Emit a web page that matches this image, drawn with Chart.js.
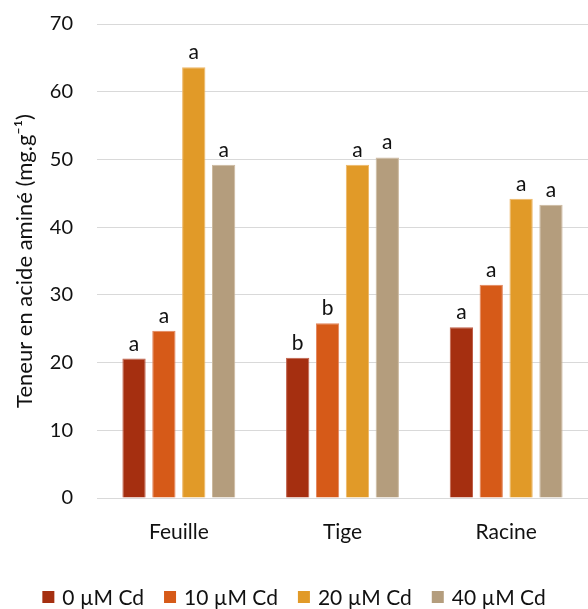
<!DOCTYPE html>
<html>
<head>
<meta charset="utf-8">
<script src="https://cdn.jsdelivr.net/npm/chart.js@4"></script>
<style>
html,body{margin:0;padding:0;background:#fff;}
#wrap{width:588px;height:609px;position:relative;}
</style>
</head>
<body>
<div id="wrap"><canvas id="c" width="588" height="609"></canvas></div>
<script>
const categories = ["Feuille", "Tige", "Racine"];
const seriesNames = ["0 µM Cd", "10 µM Cd", "20 µM Cd", "40 µM Cd"];
const cd0 = [20.6, 20.7, 25.2];
const cd10 = [24.7, 25.8, 31.5];
const cd20 = [63.6, 49.2, 44.2];
const cd40 = [49.2, 50.3, 43.3];
const letters0 = ["a", "b", "a"];
const letters10 = ["a", "b", "a"];
const letters20 = ["a", "a", "a"];
const letters40 = ["a", "a", "a"];
const yTicks = [0, 10, 20, 30, 40, 50, 60, 70];

const colors = ["#A52F10", "#D65A18", "#E19A28", "#B49D7D"];
const borders = ["#C0604A", "#E2845A", "#EDB766", "#CDB99F"];
const allValues = [cd0, cd10, cd20, cd40];
const allLetters = [letters0, letters10, letters20, letters40];
const FONT = "Lato, 'Open Sans', sans-serif";
const TXT = "#111111";

const letterPlugin = {
  id: 'letters',
  afterDatasetsDraw(chart) {
    const ctx = chart.ctx;
    ctx.save();
    ctx.font = "21px " + FONT;
    ctx.fillStyle = TXT;
    ctx.textAlign = "center";
    ctx.textBaseline = "alphabetic";
    chart.data.datasets.forEach((ds, i) => {
      const meta = chart.getDatasetMeta(i);
      meta.data.forEach((bar, j) => {
        ctx.fillText(allLetters[i][j], bar.x, bar.y - 8);
      });
    });
    ctx.restore();
  }
};

const legendPlugin = {
  id: 'customLegend',
  afterDraw(chart) {
    const ctx = chart.ctx;
    ctx.save();
    ctx.font = "21px " + FONT;
    const box = 12, gapText = 8, gapItem = 20;
    const widths = chart.data.datasets.map(ds => box + gapText + ctx.measureText(ds.label).width);
    const total = widths.reduce((a, b) => a + b, 0) + gapItem * (widths.length - 1);
    let x = (chart.width - total) / 2;
    const cy = 597;
    chart.data.datasets.forEach((ds, i) => {
      ctx.fillStyle = ds.backgroundColor;
      ctx.fillRect(x, cy - box / 2, box, box);
      ctx.fillStyle = TXT;
      ctx.textAlign = "left";
      ctx.textBaseline = "middle";
      ctx.fillText(ds.label, x + box + gapText, cy + 1);
      x += widths[i] + gapItem;
    });
    ctx.restore();
  }
};

new Chart(document.getElementById('c'), {
  type: 'bar',
  data: {
    labels: categories,
    datasets: seriesNames.map((n, i) => ({
      label: n,
      data: allValues[i],
      backgroundColor: colors[i],
      borderColor: borders[i],
      borderWidth: 1,
      categoryPercentage: 0.73,
      barPercentage: 0.78
    }))
  },
  options: {
    responsive: false,
    animation: false,
    layout: { padding: { top: 24, right: 0, left: 0, bottom: 41 } },
    plugins: {
      legend: { display: false },
      tooltip: { enabled: false }
    },
    scales: {
      x: {
        grid: { display: false },
        border: { color: "#d9d9d9", width: 1 },
        ticks: { font: { size: 21, family: FONT }, color: TXT, padding: 14 },
        afterFit(s) { s.height = 70; }
      },
      y: {
        min: 0, max: 70,
        afterBuildTicks(s) { s.ticks = yTicks.map(v => ({ value: v })); },
        grid: { color: "#d9d9d9", lineWidth: 1, drawTicks: true, tickLength: 24, tickColor: "rgba(0,0,0,0)" },
        border: { display: false },
        ticks: { font: { size: 20, family: FONT }, color: TXT, padding: 0 },
        title: {
          display: true,
          text: "Teneur en acide aminé (mg.g⁻¹)",
          font: { size: 22, family: FONT },
          color: TXT,
          padding: { top: 12, bottom: 0 }
        },
        afterFit(s) { s.width = 97; }
      }
    }
  },
  plugins: [letterPlugin, legendPlugin]
});
</script>
</body>
</html>
